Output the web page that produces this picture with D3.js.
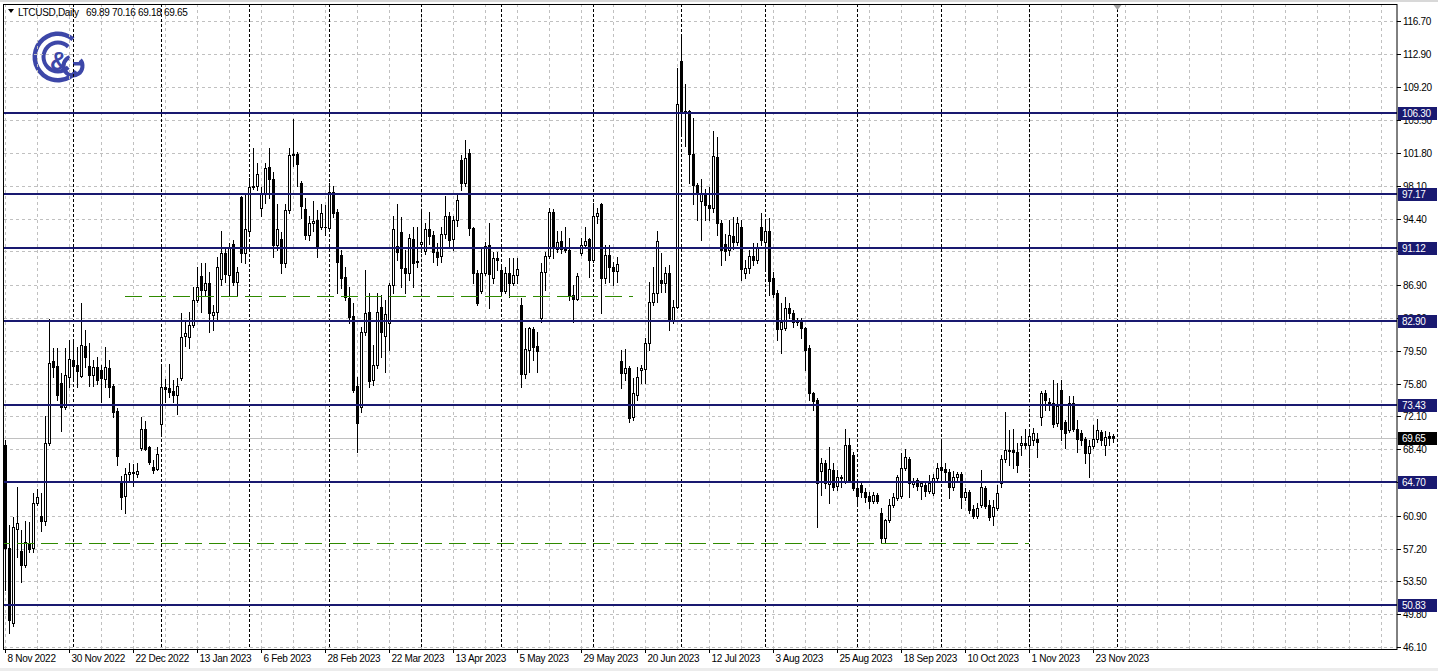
<!DOCTYPE html>
<html><head><meta charset="utf-8">
<script src="https://cdn.jsdelivr.net/npm/d3@7"></script>
<style>
html,body{margin:0;padding:0;background:#fff;overflow:hidden;}
svg{display:block;}
text{font-family:"Liberation Sans",Arial,sans-serif;font-size:10px;letter-spacing:-0.3px;}
</style></head><body>
<svg id="c" width="1438" height="671"></svg>
<script>
// ---------------- data ----------------
const opens=[68.84,57.25,48.80,59.39,56.91,55.33,57.81,57.25,62.31,60.85,
60.29,69.07,78.30,77.74,75.83,73.13,76.50,78.42,77.85,76.61,
79.99,77.74,76.73,77.63,77.29,76.28,77.52,75.49,72.67,64.57,
63.10,65.58,65.70,65.58,68.55,70.64,68.62,66.37,66.14,71.21,
75.38,75.26,74.93,74.48,76.39,81.12,81.01,82.36,85.17,87.87,
86.30,87.09,83.48,83.82,87.53,90.46,87.98,91.48,87.20,96.88,
90.46,93.05,97.90,98.12,95.64,97.22,100.26,98.80,91.37,92.04,
89.34,95.31,101.72,101.72,98.35,95.53,92.49,93.84,94.18,93.39,
93.50,93.28,97.44,95.08,90.24,87.76,85.40,83.37,75.49,73.13,
81.57,83.82,76.16,77.85,84.39,81.12,82.58,86.87,91.25,92.83,
88.77,88.21,92.04,89.57,91.48,90.69,93.17,92.49,90.58,90.13,
92.71,94.74,92.04,94.18,101.00,98.35,101.84,93.28,88.21,86.19,
88.21,91.37,87.65,89.91,88.55,86.19,88.21,87.09,87.98,84.61,
76.84,79.54,81.91,79.99,83.15,88.32,90.13,95.19,90.91,91.82,
90.91,90.80,85.74,85.29,90.46,91.37,92.04,89.68,94.63,96.00,
87.65,90.24,88.89,88.44,78.30,76.95,77.52,72.00,74.48,77.29,
77.40,80.33,84.95,85.97,87.42,87.09,88.21,82.92,84.38,112.19,
106.56,106.56,101.72,98.23,96.32,97.22,95.98,95.64,101.39,93.95,
91.48,90.80,92.38,91.70,93.39,88.21,88.77,90.13,89.68,93.50,
91.70,92.94,87.65,85.97,81.91,82.02,84.27,83.71,82.92,82.92,
82.02,79.77,74.71,73.91,65.92,66.82,64.45,66.03,64.23,65.13,
64.68,68.85,67.72,64.00,64.34,63.55,63.10,62.54,63.21,61.19,
58.37,60.40,62.09,62.88,63.10,66.26,67.27,64.45,64.90,64.23,
64.34,63.66,63.43,65.13,66.37,66.14,65.80,64.12,65.24,65.58,
62.99,63.55,61.64,60.85,62.09,64.00,62.09,60.85,61.75,64.57,
67.27,68.28,68.28,68.06,68.85,69.07,68.85,69.41,69.52,72.00,
74.71,73.69,73.58,71.32,75.04,71.43,70.53,73.58,70.65,70.19,
69.52,67.95,68.74,69.52,70.31,68.85,69.86,69.89];
const highs=[69.40,59.84,60.74,64.11,59.27,60.29,60.17,63.43,63.89,63.43,
72.12,83.03,79.77,79.77,76.96,79.77,80.67,80.55,79.88,84.83,
81.79,80.33,78.42,78.75,77.85,79.88,78.42,75.72,73.01,65.35,
66.26,66.82,66.70,66.82,72.00,71.55,68.80,67.16,68.62,77.97,
76.28,77.97,76.16,76.39,83.71,82.92,83.82,86.64,88.89,89.34,
89.34,88.32,84.61,90.02,93.05,91.14,91.59,91.93,88.89,96.99,
97.22,99.02,102.40,100.71,97.90,100.71,102.40,99.59,96.09,92.83,
96.09,102.40,105.66,101.95,98.68,96.77,94.74,96.32,95.31,96.09,
95.87,98.35,98.12,95.53,90.80,88.89,86.64,84.83,76.50,82.13,
88.55,85.97,80.10,85.97,85.74,85.17,87.09,94.63,96.09,94.52,
90.80,92.71,93.39,93.39,95.53,93.95,95.08,93.05,91.59,93.39,
96.99,95.08,94.74,97.33,101.60,103.30,102.20,93.39,88.55,90.91,
91.70,93.84,90.58,90.58,88.89,88.89,89.91,89.91,89.91,85.40,
82.02,82.13,82.13,81.57,89.34,90.58,95.64,95.53,93.05,93.05,
93.50,92.15,86.87,88.21,92.26,93.50,92.26,96.20,95.64,96.20,
91.37,91.37,89.46,90.02,79.54,79.65,77.74,76.39,77.63,77.85,
80.89,87.20,88.89,93.05,90.46,88.89,89.12,85.17,111.41,115.12,
109.60,106.67,105.77,98.35,98.91,97.78,97.90,104.31,103.64,94.18,
92.71,94.18,94.52,94.52,94.18,89.68,90.80,91.59,91.59,94.97,
94.18,94.41,88.32,86.30,84.83,85.51,84.83,84.05,83.15,83.15,
82.13,80.10,74.82,74.14,67.38,67.16,68.62,66.82,66.03,65.47,
70.65,69.63,68.06,65.02,64.68,64.00,63.55,63.55,63.43,61.75,
60.51,62.76,63.43,65.47,67.95,68.40,67.50,65.13,65.13,64.79,
64.57,65.47,65.58,66.82,69.18,66.82,66.14,65.92,65.80,65.80,
64.00,63.78,62.09,62.31,66.03,64.23,62.65,62.65,64.34,67.72,
72.56,70.53,70.65,69.07,69.86,70.65,70.65,70.76,70.19,74.93,
75.04,74.14,76.16,75.83,76.16,71.66,74.37,74.37,71.66,70.53,
69.75,69.41,71.10,71.77,70.53,70.42,70.31,70.16];
const lows=[52.50,47.68,48.50,56.23,53.42,55.11,56.80,56.80,62.09,59.16,
59.90,68.90,76.50,73.91,70.42,72.90,75.38,76.16,75.38,76.50,
77.63,75.49,75.49,75.72,73.69,75.38,74.26,72.00,66.59,61.64,
61.19,64.90,64.30,65.24,68.32,68.32,66.70,65.69,66.03,69.97,
73.69,74.26,73.69,72.34,76.16,79.99,79.77,82.13,84.95,83.82,
85.74,81.57,81.79,83.03,86.87,87.20,85.74,86.87,85.74,89.46,
89.34,92.71,97.78,97.56,94.74,96.20,96.77,90.02,90.80,88.21,
88.89,94.97,100.37,98.12,94.41,92.04,91.93,93.05,90.02,93.20,
92.49,93.05,94.52,85.97,86.53,85.17,82.58,74.90,68.12,72.56,
81.30,75.38,75.60,77.60,78.75,77.07,79.54,85.97,89.68,86.64,
85.97,87.42,86.64,88.89,90.58,90.35,91.48,89.46,89.12,89.46,
92.26,91.03,90.80,93.61,97.56,98.10,92.49,87.09,84.61,85.97,
87.98,84.27,87.09,88.55,85.74,85.97,85.51,86.87,87.09,75.38,
76.39,77.07,78.42,77.07,82.70,86.30,89.91,89.91,90.58,90.46,
90.58,85.17,82.70,85.17,90.24,91.03,87.76,89.46,93.95,83.71,
87.09,87.20,86.87,87.20,75.26,76.16,71.43,71.66,73.91,75.83,
75.83,79.54,84.61,84.95,86.07,86.07,81.79,82.58,84.27,103.75,
102.62,98.46,96.09,94.29,91.93,94.18,94.18,95.08,92.49,89.12,
89.68,90.24,90.91,91.37,87.42,87.65,88.21,89.12,89.34,91.37,
88.44,85.74,85.51,80.67,79.20,81.79,83.15,82.13,82.36,80.89,
77.29,73.91,72.79,59.61,63.21,64.00,62.31,63.78,63.78,64.12,
64.57,64.68,63.78,61.98,62.99,62.43,61.75,62.31,62.31,57.81,
57.81,60.17,61.87,62.65,62.88,66.03,62.99,64.12,63.78,62.76,
63.10,63.43,63.21,64.90,65.13,64.90,62.88,63.78,64.90,61.75,
62.65,61.19,60.62,60.62,61.87,61.75,60.40,59.84,61.53,64.12,
66.93,66.59,66.26,65.80,67.72,68.51,66.37,68.85,67.50,71.10,
72.79,72.79,70.87,70.98,69.41,68.51,70.31,70.42,68.06,68.85,
66.82,65.24,68.51,69.18,68.85,67.72,68.85,69.18];
const closes=[57.30,49.14,59.60,60.06,55.33,57.92,57.14,62.31,62.99,60.29,
69.07,78.08,77.63,74.48,73.13,76.73,78.53,77.74,77.18,80.10,
78.75,76.73,77.63,76.16,76.39,77.63,75.38,72.56,67.61,62.99,
65.58,65.80,65.80,65.92,70.65,68.44,66.93,66.03,67.84,75.38,
75.15,74.82,74.48,75.49,81.01,81.46,82.36,85.17,86.64,86.30,
87.09,83.71,83.82,88.89,90.46,88.10,91.14,87.20,88.32,90.46,
93.27,97.90,98.12,99.47,97.22,100.15,98.91,91.37,93.17,89.34,
95.31,101.61,101.61,100.60,95.76,92.49,93.84,94.07,91.14,94.97,
93.39,97.44,94.97,89.46,87.65,85.51,83.26,75.04,71.32,81.57,
83.71,76.05,77.85,83.82,81.57,83.60,86.87,93.17,90.58,88.77,
88.21,92.15,89.34,89.46,91.70,93.17,92.38,90.58,90.02,92.60,
94.74,91.93,94.18,96.54,98.35,101.27,93.28,88.21,84.83,88.21,
91.25,88.10,89.91,89.68,86.19,88.21,87.09,87.98,88.66,76.84,
79.65,82.02,79.88,79.43,88.32,90.13,95.19,91.14,91.70,90.91,
90.80,85.74,85.29,87.87,91.37,91.82,89.68,94.63,94.97,87.65,
90.24,88.89,88.44,89.23,76.95,77.52,71.89,74.71,76.50,77.52,
80.33,84.95,85.97,91.82,87.09,88.21,83.03,84.38,107.35,106.34,
106.34,101.72,98.23,97.22,97.22,95.87,95.64,101.50,93.95,90.80,
90.69,92.49,91.70,93.84,88.66,88.77,90.13,89.68,91.03,91.93,
92.94,87.31,85.85,81.91,82.70,84.27,83.71,82.70,82.70,82.02,
79.54,74.71,73.80,64.57,66.82,64.57,66.14,64.12,65.24,65.24,
68.85,64.90,64.00,63.10,63.55,62.99,62.54,63.21,62.54,58.37,
60.40,62.09,62.99,65.24,66.26,67.50,64.57,64.79,64.23,64.57,
63.66,64.57,65.13,66.26,66.03,65.80,64.12,65.24,65.58,62.99,
63.55,61.53,60.85,61.75,64.12,61.98,60.74,61.87,63.43,67.27,
68.28,68.17,68.06,66.59,69.07,68.85,69.86,70.19,69.18,74.71,
73.91,73.46,71.21,73.24,70.65,70.19,73.58,70.65,69.52,69.41,
67.95,68.74,69.52,70.53,69.41,69.75,69.63,69.65];

const priceTicks=["116.70","112.90","109.20","105.50","101.80","98.10","94.40","90.70","86.90","83.20",
"79.50","75.80","72.10","68.40","64.70","60.90","57.20","53.50","49.80","46.10"];
const dateLabels=["8 Nov 2022","30 Nov 2022","22 Dec 2022","13 Jan 2023","6 Feb 2023","28 Feb 2023",
"22 Mar 2023","13 Apr 2023","5 May 2023","29 May 2023","20 Jun 2023","12 Jul 2023","3 Aug 2023",
"25 Aug 2023","18 Sep 2023","10 Oct 2023","1 Nov 2023","23 Nov 2023"];
const dateLabelBars=[0,16,32,48,64,80,96,112,128,144,160,176,192,208,224,240,256,272];
const monthStartBars=[17,39,61,81,104,124,147,169,190,213,234,256,278];
const levelPrices=[106.30,97.17,91.12,82.90,73.43,64.70,50.83];
const levelLabels=["106.30","97.17","91.12","82.90","73.43","64.70","50.83"];
const dashLevelPrices=[85.62,57.78];
const dashLevelFrom=[30,-3];
const dashLevelTo=[157,256];
const lastPrice=69.65;
const lastPriceLabel="69.65";
const headerSymbol="LTCUSD,Daily";
const headerValues="69.89 70.16 69.18 69.65";

// ---------------- layout ----------------
const svg=d3.select("#c");
const FL=4, FT=4, FR=1397, FB=649;   // chart frame
const x=d3.scaleLinear().domain([0,278]).range([5,1117]);
const y=d3.scaleLinear().domain([46.10,116.70]).range([647,20.7]).interpolate(d3.interpolateRound);
const navy="#191970", grid="#c0c0c0";

// window strips
svg.append("rect").attr("x",0).attr("y",0).attr("width",1438).attr("height",2).attr("fill","#d8d8d8");
svg.append("rect").attr("x",0).attr("y",668).attr("width",1438).attr("height",3).attr("fill","#ececec");

// logo
const logo=svg.append("g").attr("fill","#3d47a8");
const arc=d3.arc();
const dg=Math.PI/180;
logo.append("path").attr("transform","translate(58,57)")
  .attr("d",arc({innerRadius:21,outerRadius:25.5,startAngle:128*dg,endAngle:400*dg}));
logo.append("path").attr("transform","translate(58,57)")
  .attr("d",arc({innerRadius:12.5,outerRadius:16.5,startAngle:135*dg,endAngle:405*dg}));
logo.append("path").attr("transform","translate(73,66)")
  .attr("d",arc({innerRadius:7.5,outerRadius:11.5,startAngle:50*dg,endAngle:340*dg}));
logo.append("rect").attr("x",73).attr("y",62).attr("width",11).attr("height",3.5);
logo.append("text").attr("x",59).attr("y",70).attr("text-anchor","middle")
  .style("font-size","25px").style("font-weight","bold").style("letter-spacing","0").text("&");

const plot=svg.append("g");
svg.append("clipPath").attr("id","clip").append("rect")
  .attr("x",FL).attr("y",FT).attr("width",FR-FL).attr("height",FB-FT);
plot.attr("clip-path","url(#clip)");

// horizontal grid
plot.selectAll(".hg").data(priceTicks).join("line")
  .attr("x1",FL).attr("x2",FR).attr("y1",d=>y(+d)+0.5).attr("y2",d=>y(+d)+0.5)
  .attr("stroke",grid).attr("stroke-dasharray","3,3");
// vertical grid every 8 bars
const vg=d3.range(0,350,8).filter(i=>x(i)<FR-2);
plot.selectAll(".vg").data(vg).join("line")
  .attr("x1",d=>x(d)+0.5).attr("x2",d=>x(d)+0.5).attr("y1",FT).attr("y2",FB)
  .attr("stroke",grid).attr("stroke-dasharray","3,3");
// month separators
plot.selectAll(".sep").data(monthStartBars).join("line")
  .attr("x1",d=>x(d)+0.5).attr("x2",d=>x(d)+0.5).attr("y1",FT).attr("y2",FB)
  .attr("stroke","#000").attr("stroke-dasharray","3,2");
// last price line
plot.append("line").attr("x1",FL).attr("x2",FR)
  .attr("y1",y(lastPrice)+0.5).attr("y2",y(lastPrice)+0.5).attr("stroke",grid);

// candles
const bars=d3.range(opens.length).map(i=>({i,o:opens[i],h:highs[i],l:lows[i],c:closes[i]}));
const cg=plot.append("g").attr("shape-rendering","crispEdges");
bars.forEach(b=>{
  const cx=x(b.i);
  const yh=y(b.h), yl=y(b.l), yo=y(b.o), yc=y(b.c);
  const top=Math.min(yo,yc), bot=Math.max(yo,yc);
  cg.append("rect").attr("x",cx).attr("y",yh).attr("width",1).attr("height",yl-yh+1).attr("fill","#000");
  cg.append("rect").attr("x",cx-1).attr("y",top).attr("width",3).attr("height",bot-top+1).attr("fill","#000");
  if(b.c>b.o && bot-top>=2){
    cg.append("rect").attr("x",cx).attr("y",top+1).attr("width",1).attr("height",bot-top-1).attr("fill","#fff");
  }
});

// dashed green levels
plot.selectAll(".gl").data(dashLevelPrices).join("line")
  .attr("x1",(d,k)=>x(dashLevelFrom[k])).attr("x2",(d,k)=>x(dashLevelTo[k]))
  .attr("y1",d=>y(d)+0.5).attr("y2",d=>y(d)+0.5)
  .attr("stroke","#2f8a00").attr("stroke-dasharray","17,7");
// navy levels
plot.selectAll(".lv").data(levelPrices).join("line")
  .attr("x1",FL).attr("x2",FR).attr("y1",d=>y(d)).attr("y2",d=>y(d))
  .attr("stroke",navy).attr("stroke-width",2);

// frame
svg.append("rect").attr("x",FL-0.5).attr("y",FT+0.5).attr("width",FR-FL+0.5).attr("height",FB-FT)
  .attr("fill","none").attr("stroke","#000");

// right price axis
const ya=d3.axisRight(y).tickValues(priceTicks.map(Number)).tickFormat((d,k)=>priceTicks[k])
  .tickSize(4).tickPadding(2);
const yag=svg.append("g").attr("transform",`translate(${FR},0)`).call(ya);
yag.select(".domain").remove();
yag.selectAll("text").attr("fill","#000").attr("dy","0.34em");
yag.selectAll("line").attr("stroke","#000");
yag.attr("font-family",null).attr("font-size",null);

// bottom date axis
const xa=d3.axisBottom(x).tickValues(dateLabelBars).tickFormat((d,k)=>dateLabels[k])
  .tickSize(4).tickPadding(2);
const xag=svg.append("g").attr("transform",`translate(0,${FB})`).call(xa);
xag.select(".domain").remove();
xag.selectAll("text").attr("text-anchor","start").attr("x",2).attr("fill","#000");
xag.selectAll("line").attr("stroke","#000");
xag.attr("font-family",null).attr("font-size",null);

// level label boxes
const lb=svg.selectAll(".lb").data(levelPrices).join("g")
  .attr("transform",d=>`translate(1398,${y(d)})`);
lb.append("rect").attr("x",0).attr("y",-6).attr("width",39).attr("height",13).attr("fill",navy);
lb.append("text").attr("x",4).attr("y",4).attr("fill","#fff").text((d,k)=>levelLabels[k]);
// last price box
const lp=svg.append("g").attr("transform",`translate(1398,${y(lastPrice)})`);
lp.append("rect").attr("x",0).attr("y",-6).attr("width",39).attr("height",13).attr("fill","#000");
lp.append("text").attr("x",4).attr("y",4).attr("fill","#fff").text(lastPriceLabel);

// chart shift marker
svg.append("path").attr("d",`M${x(278)-3.5},${FT+1} L${x(278)+4.5},${FT+1} L${x(278)+0.5},${FT+6} Z`).attr("fill","#a0a0a0");

// header
svg.append("path").attr("d","M8,9 L14,9 L11,13 Z").attr("fill","#000");
svg.append("text").attr("x",18).attr("y",16).attr("fill","#000").text(headerSymbol);
svg.append("text").attr("x",86).attr("y",16).attr("fill","#000").text(headerValues);
</script>
</body></html>
